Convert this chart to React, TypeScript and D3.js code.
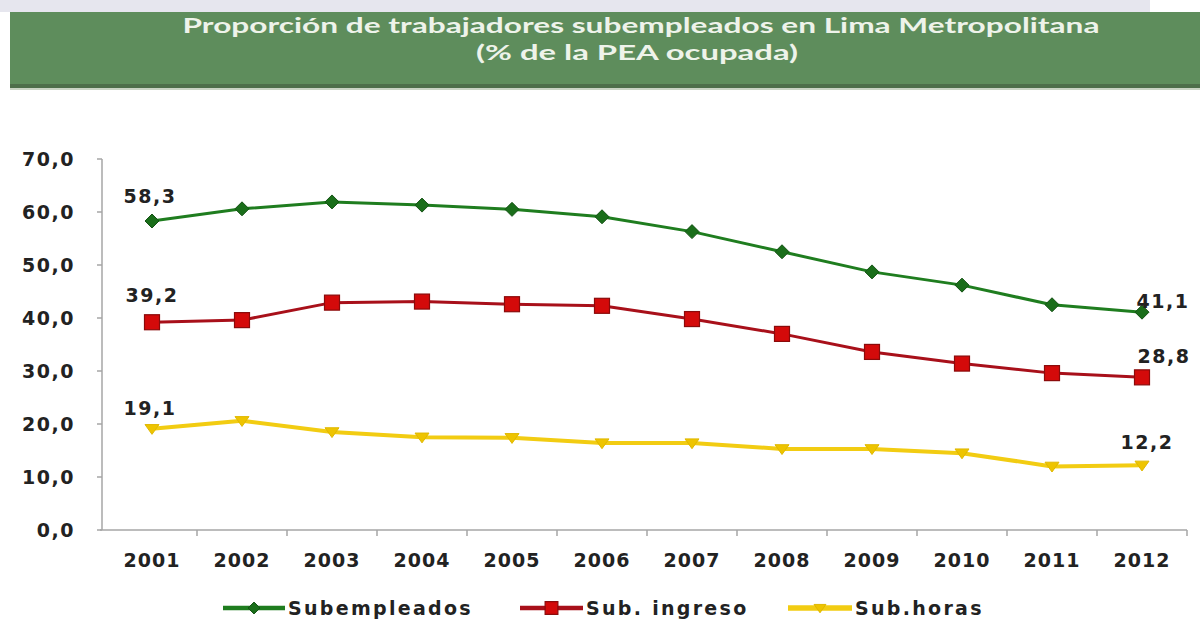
import React from "react";
import * as d3 from "d3";

const years = ["2001","2002","2003","2004","2005","2006","2007","2008","2009","2010","2011","2012"];
const subempleados = [58.3, 60.6, 61.9, 61.3, 60.5, 59.1, 56.3, 52.5, 48.7, 46.2, 42.5, 41.1];
const subIngreso = [39.2, 39.6, 42.9, 43.1, 42.6, 42.3, 39.8, 37.0, 33.6, 31.4, 29.6, 28.8];
const subHoras = [19.1, 20.6, 18.5, 17.5, 17.4, 16.4, 16.4, 15.3, 15.3, 14.5, 12.0, 12.2];
const yTicks = [0, 10, 20, 30, 40, 50, 60, 70];
const seriesNames = ["Subempleados", "Sub. ingreso", "Sub.horas"];
const titleLines = ["Proporción de trabajadores subempleados en Lima Metropolitana", "(% de la PEA ocupada)"];

const W = 1200, H = 619;
const fmt = (v: number) => v.toFixed(1).replace(".", ",");

export default function App() {
  const x = d3.scaleBand<string>().domain(years).range([107, 1187]).paddingInner(0).paddingOuter(0);
  const y = d3.scaleLinear().domain([0, 70]).range([530, 159]);
  const cx = (yr: string) => (x(yr) as number) + x.bandwidth() / 2;
  const line = d3.line<number>().x((_, i) => cx(years[i])).y((v) => y(v));

  const series = [
    { name: seriesNames[0], values: subempleados, color: "#1f7d1f", marker: "diamond", mcolor: "#1a6e1a", width: 3 },
    { name: seriesNames[1], values: subIngreso, color: "#a8101a", marker: "square", mcolor: "#d40a0a", width: 3 },
    { name: seriesNames[2], values: subHoras, color: "#f2cc12", marker: "triangle", mcolor: "#eec400", width: 4 },
  ];

  const marker = (type: string, px: number, py: number, fill: string, key: any, scale = 1) => {
    if (type === "diamond") {
      const s = 7 * scale;
      return <path key={key} d={`M${px},${py - s}L${px + s},${py}L${px},${py + s}L${px - s},${py}Z`} fill={fill} stroke="#145214" strokeWidth={1} />;
    }
    if (type === "square") {
      const s = 7.5 * scale;
      return <rect key={key} x={px - s} y={py - s} width={2 * s} height={2 * s} fill={fill} stroke="#8a0a0a" strokeWidth={1.2} />;
    }
    const s = 7 * scale;
    return <path key={key} d={`M${px - s},${py - s * 0.6}L${px + s},${py - s * 0.6}L${px},${py + s * 0.8}Z`} fill={fill} stroke="#e0b800" strokeWidth={1} />;
  };

  const font = "'DejaVu Sans', Verdana, sans-serif";
  const xAxisY = y(0);
  const bounds = years.map((yr) => x(yr) as number).slice(1).concat([1187]);

  const labelOffsets = [
    [{ dx: -2, dy: -18 }, { dx: 21, dy: -4 }],
    [{ dx: 0, dy: -20 }, { dx: 22, dy: -14 }],
    [{ dx: -2, dy: -14 }, { dx: 5, dy: -16 }],
  ];

  const legendItems = [
    { x0: 223, x1: 285, tx: 288 },
    { x0: 520, x1: 583, tx: 586 },
    { x0: 788, x1: 852, tx: 855 },
  ];

  return (
    <svg width={W} height={H} style={{ position: "absolute", left: 0, top: 0, background: "#fff" }} fontFamily={font}>
      <rect x={0} y={0} width={1150} height={12} fill="#e6e6ee" />
      <rect x={10} y={12} width={1190} height={76} fill="#5e8d5c" />
      <rect x={10} y={84} width={1190} height={4} fill="#4d6e4a" />
      <rect x={10} y={88} width={1190} height={2} fill="#c9d3c4" />
      <text x={641} y={33} textAnchor="middle" fill="#eef3ea" fontSize={20} fontWeight="bold" fontFamily="Lato, 'Open Sans', sans-serif" textLength={917} lengthAdjust="spacingAndGlyphs">{titleLines[0]}</text>
      <text x={637} y={60} textAnchor="middle" fill="#eef3ea" fontSize={20} fontWeight="bold" fontFamily="Lato, 'Open Sans', sans-serif" textLength={322} lengthAdjust="spacingAndGlyphs">{titleLines[1]}</text>

      <line x1={102} x2={102} y1={y(70)} y2={xAxisY} stroke="#a6a6a6" strokeWidth={1.5} />
      {yTicks.map((t) => (
        <g key={t}>
          <line x1={97} x2={102} y1={y(t)} y2={y(t)} stroke="#a6a6a6" strokeWidth={1.5} />
          <text x={75} y={y(t)} dy="0.36em" textAnchor="end" fontSize={19} fontWeight="bold" fill="#222" letterSpacing={1.5}>{fmt(t)}</text>
        </g>
      ))}

      <line x1={100} x2={1187} y1={xAxisY} y2={xAxisY} stroke="#a6a6a6" strokeWidth={1.5} />
      {bounds.map((b, i) => (
        <line key={i} x1={b} x2={b} y1={xAxisY} y2={xAxisY + 6} stroke="#a6a6a6" strokeWidth={1.5} />
      ))}
      {years.map((yr) => (
        <text key={yr} x={cx(yr)} y={567} textAnchor="middle" fontSize={19} fontWeight="bold" fill="#222" letterSpacing={1}>{yr}</text>
      ))}

      {series.map((s, si) => (
        <g key={s.name}>
          <path d={line(s.values) as string} fill="none" stroke={s.color} strokeWidth={s.width} strokeLinejoin="round" />
          {s.values.map((v, i) => marker(s.marker, cx(years[i]), y(v), s.mcolor, i))}
          {[0, s.values.length - 1].map((i, k) => (
            <text key={"l" + i} x={cx(years[i]) + labelOffsets[si][k].dx} y={y(s.values[i]) + labelOffsets[si][k].dy} textAnchor="middle" fontSize={19} fontWeight="bold" fill="#222" letterSpacing={1.5}>{fmt(s.values[i])}</text>
          ))}
        </g>
      ))}

      {series.map((s, i) => {
        const li = legendItems[i];
        const ly = 608;
        return (
          <g key={"leg" + i}>
            <line x1={li.x0} x2={li.x1} y1={ly} y2={ly} stroke={s.color} strokeWidth={s.width + 1.5} />
            {marker(s.marker, (li.x0 + li.x1) / 2, ly, s.mcolor, "m", 0.85)}
            <text x={li.tx} y={ly} dy="0.35em" fontSize={19} fontWeight="bold" fill="#222" letterSpacing={2.3}>{s.name}</text>
          </g>
        );
      })}
    </svg>
  );
}
